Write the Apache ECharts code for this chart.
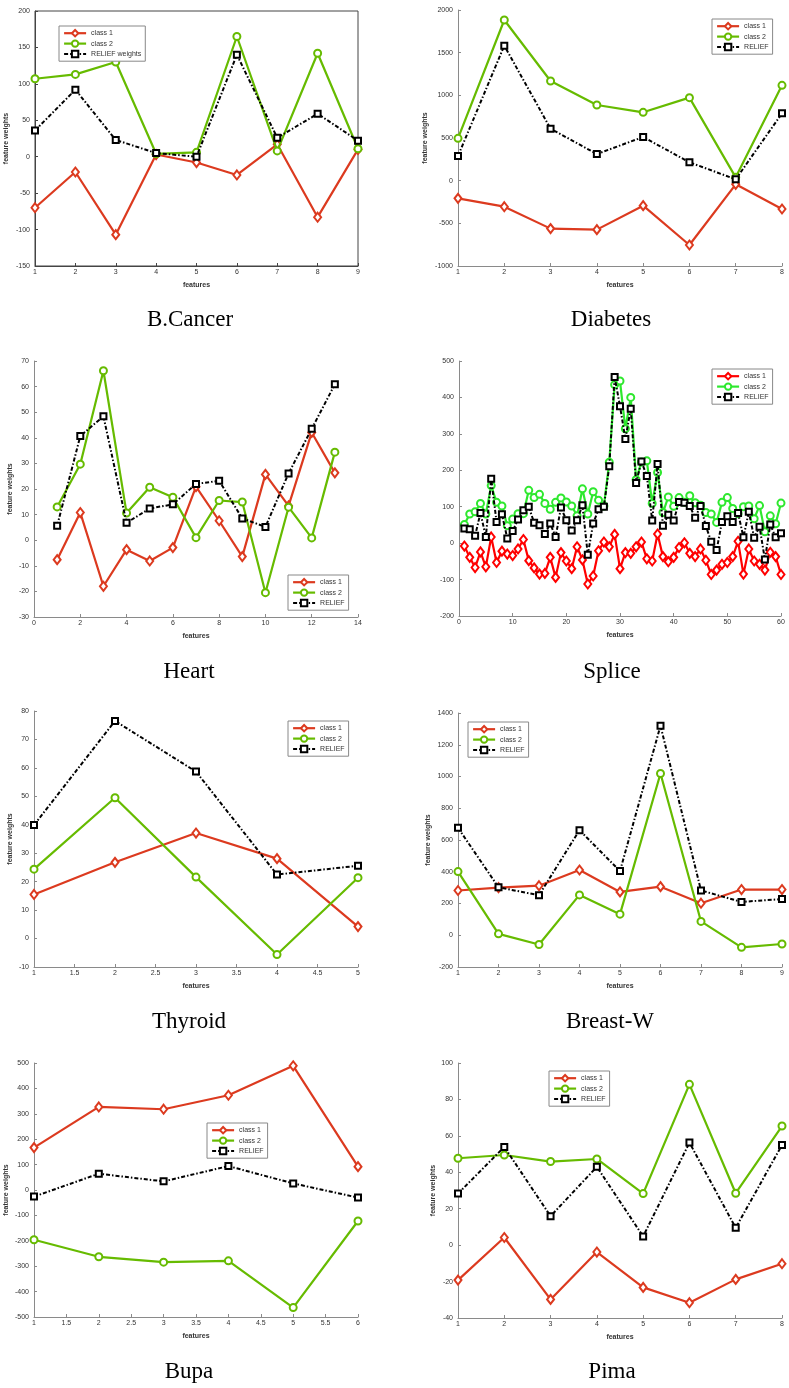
<!DOCTYPE html>
<html><head><meta charset="utf-8">
<script src="https://cdn.jsdelivr.net/npm/echarts@6/dist/echarts.min.js"></script>
<style>html,body{margin:0;padding:0;background:#fff}#c{width:789px;height:1388px}</style>
</head><body><div id="c"></div><script>
// ---- data ----
const cancerClass1 = [-70, -21, -107, 3, -8, -25, 17, -83, 10];
const cancerClass2 = [107, 113, 130, 4, 6, 165, 8, 142, 11];
const cancerRelief = [36, 92, 23, 5, 0, 140, 26, 59, 22];

const diabetesClass1 = [-207, -305, -562, -574, -293, -754, -43, -332];
const diabetesClass2 = [496, 1883, 1168, 887, 801, 973, 39, 1117];
const diabetesRelief = [289, 1582, 609, 312, 512, 215, 16, 789];

const heartClass1 = [-7.6, 10.8, -18, -3.7, -8.1, -2.9, 20.9, 7.6, -6.4, 25.7, 13.4, 42.1, 26.3];
const heartClass2 = [13, 29.7, 66.2, 10.6, 20.7, 16.8, 1, 15.5, 14.9, -20.5, 12.9, 0.9, 34.4];
const heartRelief = [5.6, 40.7, 48.4, 6.8, 12.4, 14, 22, 23.2, 8.5, 5.2, 26.1, 43.5, 60.9];

const spliceClass1 = [-8, -39, -67, -24, -65, 17, -53, -22, -30, -34, -16, 10, -48, -68, -85, -83, -39, -94, -26, -49,
  -70, -10, -46, -112, -90, -21, 3, -10, 24, -70, -26, -28, -10, 3, -43, -49, 25, -37, -51, -39,
  -12, 1, -28, -37, -16, -47, -86, -74, -58, -53, -37, 5, -85, -16, -49, -58, -74, -25, -37, -86];
const spliceClass2 = [51, 80, 86, 109, 80, 158, 112, 102, 48, 66, 81, 81, 145, 125, 134, 109, 93, 112, 124, 113,
  102, 75, 149, 80, 141, 118, 102, 222, 435, 445, 314, 400, 174, 223, 226, 109, 194, 84, 127, 101,
  125, 112, 130, 111, 104, 84, 80, 57, 112, 125, 95, 81, 100, 102, 67, 103, 31, 75, 53, 110];
const spliceRelief = [40, 38, 20, 83, 17, 177, 58, 79, 13, 33, 65, 90, 100, 56, 49, 25, 54, 17, 98, 63,
  35, 63, 104, -32, 54, 93, 100, 211, 456, 376, 286, 369, 165, 224, 184, 62, 217, 48, 78, 62,
  113, 111, 102, 70, 102, 47, 4, -19, 58, 74, 58, 83, 16, 86, 15, 45, -45, 51, 16, 27];

const thyroidClass1 = [15.5, 26.8, 37.1, 28.1, 4.2];
const thyroidClass2 = [24.4, 49.5, 21.6, -5.6, 21.4];
const thyroidRelief = [39.9, 76.5, 58.7, 22.5, 25.6];

const breastClass1 = [282, 300, 312, 411, 273, 306, 202, 288, 288];
const breastClass2 = [401, 9, -58, 254, 133, 1019, 87, -76, -55];
const breastRelief = [677, 302, 252, 662, 404, 1320, 282, 210, 228];

const bupaClass1 = [167, 327, 318, 373, 489, 92];
const bupaClass2 = [-196, -263, -284, -279, -463, -122];
const bupaRelief = [-26, 64, 34, 94, 26, -30];

const pimaClass1 = [-19.2, 4.2, -29.8, -3.8, -23.2, -31.6, -18.8, -10.2];
const pimaClass2 = [47.7, 49.5, 45.9, 47.3, 28.3, 88.3, 28.5, 65.4];
const pimaRelief = [28.3, 53.9, 15.9, 43, 4.8, 56.3, 9.5, 55];

const captions = ['B.Cancer', 'Diabetes', 'Heart', 'Splice', 'Thyroid', 'Breast-W', 'Bupa', 'Pima'];
const class1Name = 'class 1', class2Name = 'class 2';

// ---- layout / style ----
const RED = '#dc3a1f', GREEN = '#66bb00', SRED = '#ff0000', SGREEN = '#2ee82e';
const panels = [
  {c1: cancerClass1, c2: cancerClass2, r: cancerRelief, rName: 'RELIEF weights', grid: {left: 35, top: 11, width: 323, height: 255},
   x: {min: 1, max: 9, interval: 1}, y: {min: -150, max: 200, interval: 50}, yGap: 25, lg: {left: 59, top: 26}, box: true, cap: [190, 320]},
  {c1: diabetesClass1, c2: diabetesClass2, r: diabetesRelief, rName: 'RELIEF', grid: {left: 458, top: 10, width: 324, height: 256},
   x: {min: 1, max: 8, interval: 1}, y: {min: -1000, max: 2000, interval: 500}, yGap: 29, lg: {left: 712, top: 19}, cap: [611, 320]},
  {c1: heartClass1, c2: heartClass2, r: heartRelief, rName: 'RELIEF', grid: {left: 34, top: 361, width: 324, height: 256},
   x: {min: 0, max: 14, interval: 2}, y: {min: -30, max: 70, interval: 10}, yGap: 20, lg: {left: 288, top: 575}, cap: [189, 672]},
  {c1: spliceClass1, c2: spliceClass2, r: spliceRelief, rName: 'RELIEF', grid: {left: 459, top: 361, width: 322, height: 255},
   x: {min: 0, max: 60, interval: 10}, y: {min: -200, max: 500, interval: 100}, yGap: 0, noYName: true, lg: {left: 712, top: 369}, splice: true, cap: [612, 672]},
  {c1: thyroidClass1, c2: thyroidClass2, r: thyroidRelief, rName: 'RELIEF', grid: {left: 34, top: 711, width: 324, height: 256},
   x: {min: 1, max: 5, interval: 0.5}, y: {min: -10, max: 80, interval: 10}, yGap: 20, lg: {left: 288, top: 721}, cap: [189, 1022]},
  {c1: breastClass1, c2: breastClass2, r: breastRelief, rName: 'RELIEF', grid: {left: 458, top: 713, width: 324, height: 254},
   x: {min: 1, max: 9, interval: 1}, y: {min: -200, max: 1400, interval: 200}, yGap: 26, lg: {left: 468, top: 722}, cap: [610, 1022]},
  {c1: bupaClass1, c2: bupaClass2, r: bupaRelief, rName: 'RELIEF', grid: {left: 34, top: 1063, width: 324, height: 254},
   x: {min: 1, max: 6, interval: 0.5}, y: {min: -500, max: 500, interval: 100}, yGap: 24, lg: {left: 207, top: 1123}, cap: [189, 1372]},
  {c1: pimaClass1, c2: pimaClass2, r: pimaRelief, rName: 'RELIEF', grid: {left: 458, top: 1063, width: 324, height: 255},
   x: {min: 1, max: 8, interval: 1}, y: {min: -40, max: 100, interval: 20}, yGap: 21, lg: {left: 549, top: 1071}, cap: [612, 1372]}
];

const AX = '#8a8a8a', TXT = '#333';
const FONT = 'Liberation Sans';
const DASHDOT = [4, 2, 1.5, 2];
const grids = [], xAxes = [], yAxes = [], series = [], legends = [], graphics = [];
const pts = arr => arr.map((v, k) => [k + 1, v]);

panels.forEach((p, i) => {
  const red = p.splice ? SRED : RED, green = p.splice ? SGREEN : GREEN;
  grids.push(Object.assign({containLabel: false, show: !!p.box, borderColor: '#444', borderWidth: 1, backgroundColor: 'transparent'}, p.grid));
  const axCommon = {
    type: 'value', gridIndex: i, splitLine: {show: false},
    axisLine: {show: true, onZero: false, lineStyle: {color: p.box ? '#444' : AX, width: 1}},
    axisTick: {show: true, inside: true, length: 3, lineStyle: {color: p.box ? '#444' : AX}},
    axisLabel: {fontSize: 7, color: TXT, fontFamily: FONT, formatter: v => String(v)},
    nameTextStyle: {fontSize: 7, fontWeight: 'bold', color: TXT, fontFamily: FONT}
  };
  xAxes.push(Object.assign({}, axCommon, p.x, {name: 'features', nameLocation: 'middle', nameGap: 16,
    axisLabel: Object.assign({}, axCommon.axisLabel, {margin: 3})}));
  yAxes.push(Object.assign({}, axCommon, p.y, {name: p.noYName ? '' : 'feature weights', nameLocation: 'middle', nameGap: p.yGap,
    axisLabel: Object.assign({}, axCommon.axisLabel, {margin: 5})}));
  series.push({type: 'line', name: class1Name, xAxisIndex: i, yAxisIndex: i, data: pts(p.c1),
    symbol: 'emptyDiamond', symbolSize: [7, 9], lineStyle: {color: red, width: 2.2}, itemStyle: {color: red, borderColor: red, borderWidth: 1.6},
    animation: false, z: 2});
  series.push({type: 'line', name: class2Name, xAxisIndex: i, yAxisIndex: i, data: pts(p.c2),
    symbol: 'emptyCircle', symbolSize: 7, lineStyle: {color: green, width: 2.2}, itemStyle: {color: green, borderColor: green, borderWidth: 1.6},
    animation: false, z: 3});
  series.push({type: 'line', name: p.rName, xAxisIndex: i, yAxisIndex: i, data: pts(p.r),
    symbol: 'emptyRect', symbolSize: 6, lineStyle: {color: '#000', width: 2, type: DASHDOT}, itemStyle: {color: '#000', borderColor: '#000', borderWidth: 2},
    animation: false, z: 4});
  legends.push({
    orient: 'vertical', left: p.lg.left, top: p.lg.top, padding: [3, 4, 3, 4], itemGap: 2, itemWidth: 22, itemHeight: 8,
    backgroundColor: '#fff', borderColor: '#888', borderWidth: 1, borderRadius: 0,
    textStyle: {fontSize: 7, color: TXT, fontFamily: FONT}, selectedMode: false,
    data: [
      {name: class1Name, itemStyle: {color: red, borderColor: red, borderWidth: 1.6}, lineStyle: {color: red, width: 2.2, type: 'solid'}},
      {name: class2Name, itemStyle: {color: green, borderColor: green, borderWidth: 1.6}, lineStyle: {color: green, width: 2.2, type: 'solid'}},
      {name: p.rName, itemStyle: {color: '#000', borderColor: '#000', borderWidth: 2}, lineStyle: {color: '#000', width: 2, type: DASHDOT}}
    ]
  });
  graphics.push({type: 'text', x: p.cap[0], y: p.cap[1], style: {text: captions[i], font: '23px "Liberation Serif"', fill: '#000', textAlign: 'center', textVerticalAlign: 'middle'}});
});

const chart = echarts.init(document.getElementById('c'), null, {renderer: 'canvas'});
chart.setOption({
  backgroundColor: '#fff', animation: false,
  grid: grids, xAxis: xAxes, yAxis: yAxes, series: series, legend: legends, graphic: graphics
});
</script></body></html>
